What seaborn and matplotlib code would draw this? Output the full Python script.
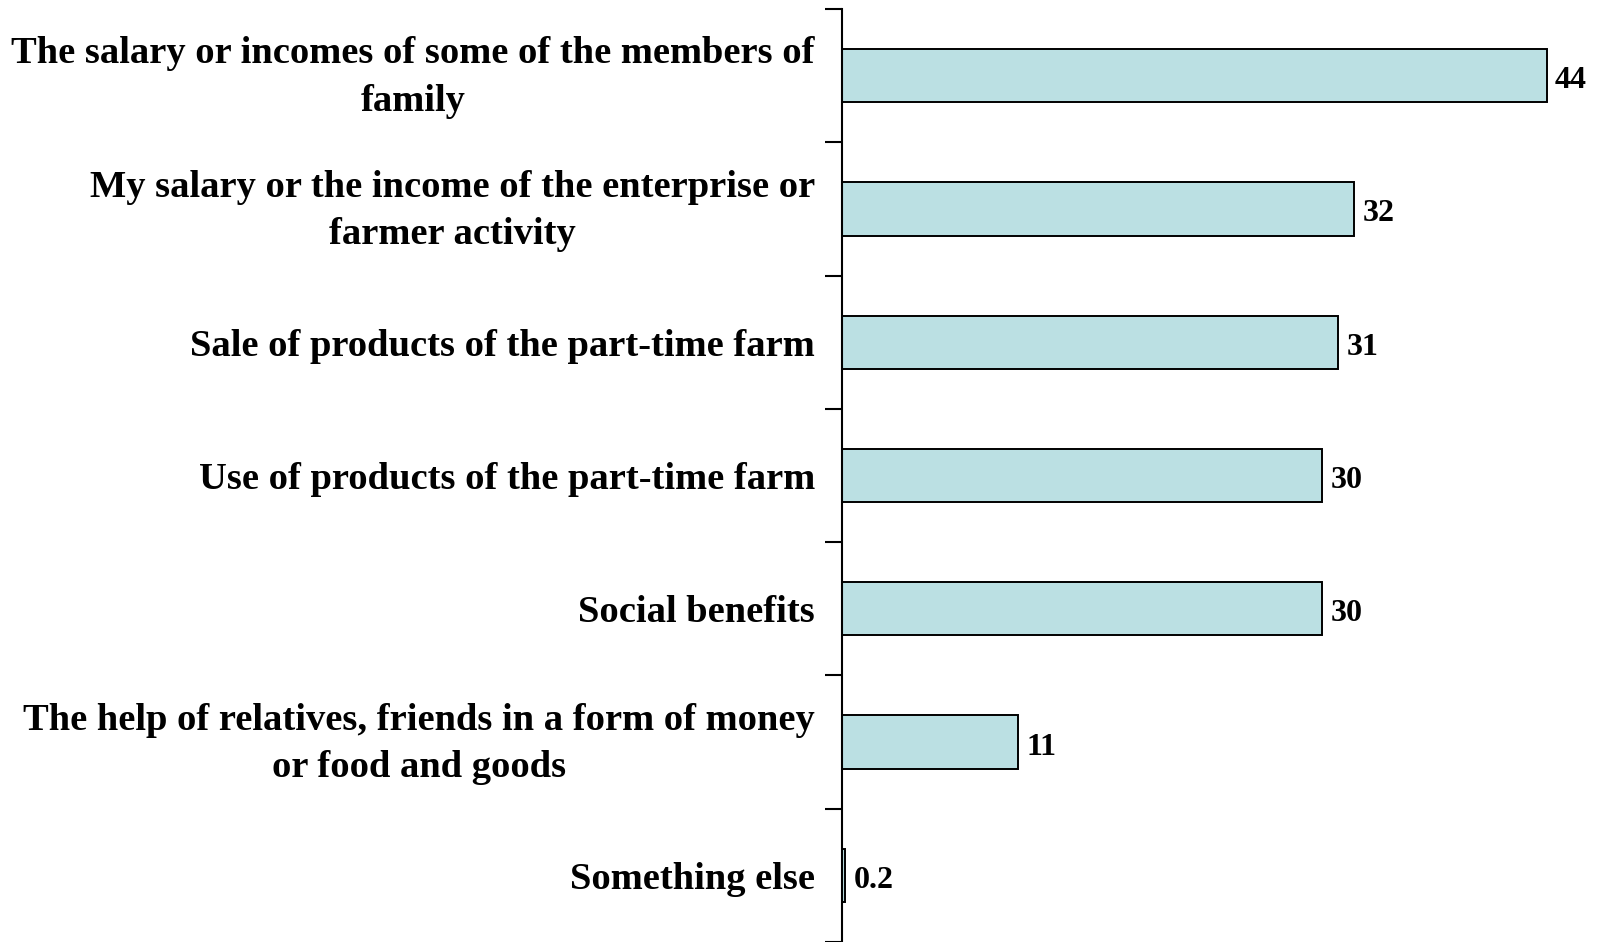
import matplotlib
matplotlib.use("Agg")
import matplotlib.pyplot as plt
import matplotlib.transforms as mtransforms
import seaborn as sns
import pandas as pd

categories = [
    "The salary or incomes of some of the members of\nfamily",
    "My salary or the income of the enterprise or\nfarmer activity",
    "Sale of products of the part-time farm",
    "Use of products of the part-time farm",
    "Social benefits",
    "The help of relatives, friends in a form of money\nor food and goods",
    "Something else",
]
values = [44, 32, 31, 30, 30, 11, 0.2]
value_labels = ["44", "32", "31", "30", "30", "11", "0.2"]

sns.set_theme(style="white")
plt.rcParams["font.family"] = ["Liberation Serif", "DejaVu Serif"]
plt.rcParams["font.weight"] = "bold"
plt.rcParams["text.color"] = "black"
plt.rcParams["ytick.color"] = "black"

df = pd.DataFrame({"source": categories, "share": values})

fig = plt.figure(figsize=(16.01, 9.42), dpi=100)
ax = fig.add_axes([0.526, 0.0, 0.474, 0.9904])

sns.barplot(data=df, x="share", y="source", orient="h", ax=ax,
            color="#BBE0E3", edgecolor="black", linewidth=1.4,
            width=0.40, saturation=1)

ax.set_xlim(0, 47.4)
ax.set_ylim(6.5, -0.5)
ax.set_xlabel("")
ax.set_ylabel("")
ax.set_xticks([])

# category ticks sit on the boundaries between bars
ax.set_yticks([i - 0.5 for i in range(len(categories) + 1)])
ax.set_yticklabels([])
ax.tick_params(axis="y", which="major", length=12, width=1.5, color="black",
               direction="out", left=True)

# category names, right-aligned a little left of the axis
label_trans = mtransforms.blended_transform_factory(ax.transAxes, ax.transData)
for i, name in enumerate(categories):
    dy = -2 if "\n" in name else -4
    trans = mtransforms.offset_copy(label_trans, fig=fig, x=0, y=dy,
                                    units="dots")
    ax.text(-0.036, i, name, transform=trans, ha="right", va="center",
            multialignment="center", linespacing=1.47, fontsize=27.7,
            fontweight="bold", color="black", clip_on=False)

for side in ["top", "right", "bottom"]:
    ax.spines[side].set_visible(False)
ax.spines["left"].set_color("black")
ax.spines["left"].set_linewidth(1.5)

for i, (v, t) in enumerate(zip(values, value_labels)):
    ax.annotate(t, xy=(v, i), xytext=(8, -5), textcoords="offset pixels",
                ha="left", va="center", fontsize=23, fontweight="bold",
                color="black")

fig.savefig("out.png", dpi=100, facecolor="white")
